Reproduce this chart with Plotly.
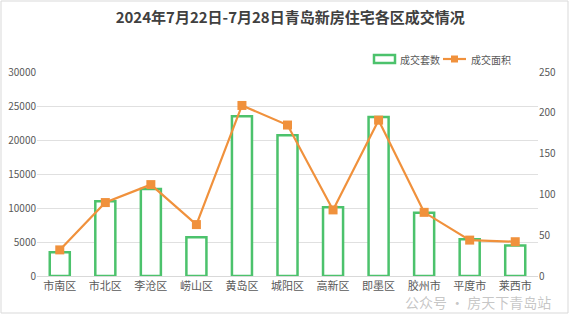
import plotly.graph_objects as go

categories = ["市南区", "市北区", "李沧区", "崂山区", "黄岛区", "城阳区", "高新区", "即墨区", "胶州市", "平度市", "莱西市"]
deals = [3500, 11000, 12800, 5700, 23500, 20700, 10100, 23400, 9300, 5400, 4500]
area = [32, 90, 112, 63, 209, 185, 81, 191, 78, 44, 42]
left_ticks = [0, 5000, 10000, 15000, 20000, 25000, 30000]
right_ticks = [0, 50, 100, 150, 200, 250]

GREEN = "#4CC26C"
ORANGE = "#F0913C"
TXT = "#595959"
FONT = "Noto Sans CJK SC"

L, R, T, B = 37, 31, 72, 39
PW, PH = 569 - L - R, 315 - T - B


def px(x):
    return (x - L) / PW


def py(y):
    return (315 - B - y) / PH


fig = go.Figure()
fig.add_trace(go.Bar(
    x=categories, y=deals, name="成交套数", width=0.44,
    marker=dict(color="white", line=dict(color=GREEN, width=2.5)),
    yaxis="y",
))
fig.add_trace(go.Scatter(
    x=categories, y=area, name="成交面积", mode="lines+markers",
    line=dict(color=ORANGE, width=2.2),
    marker=dict(symbol="square", size=9, color=ORANGE),
    yaxis="y2",
))

fig.update_layout(
    width=569, height=315,
    margin=dict(l=L, r=R, t=T, b=B, autoexpand=False),
    paper_bgcolor="white", plot_bgcolor="white",
    font=dict(family=FONT, color=TXT, size=10),
    title=dict(text="<b>2024年7月22日-7月28日青岛新房住宅各区成交情况</b>",
               x=0.51, xanchor="center", y=0.945, yanchor="middle",
               font=dict(family=FONT, size=15, color="#404040")),
    showlegend=False,
    xaxis=dict(showgrid=False, showline=True, linecolor="#D9D9D9", linewidth=1,
               ticks="", tickfont=dict(size=11, color=TXT), fixedrange=True,
               automargin=False, range=[-0.5, 10.5]),
    yaxis=dict(range=[0, 30000], tickvals=left_ticks,
               ticktext=[str(v) for v in left_ticks], showgrid=True,
               gridcolor="#E0E0E0", gridwidth=1, zeroline=False, automargin=False,
               tickfont=dict(size=10, color=TXT), ticks="", showline=False),
    yaxis2=dict(range=[0, 250], tickvals=right_ticks,
                ticktext=[str(v) for v in right_ticks], overlaying="y", side="right",
                showgrid=False, zeroline=False, automargin=False,
                tickfont=dict(size=10, color=TXT), ticks="", showline=False),
    bargap=0.56,
)

# outer border of the chart
fig.add_shape(type="rect", xref="paper", yref="paper",
              x0=px(1), x1=px(568), y0=py(313), y1=py(1),
              line=dict(color="#D9D9D9", width=1), fillcolor="rgba(0,0,0,0)", layer="below")

# legend (drawn manually to match compact layout)
fig.add_shape(type="rect", xref="paper", yref="paper",
              x0=px(374), x1=px(395), y0=py(63), y1=py(55),
              line=dict(color=GREEN, width=2.5), fillcolor="white")
fig.add_annotation(text="成交套数", xref="paper", yref="paper", x=px(398), xanchor="left",
                   y=py(59), yanchor="middle", showarrow=False,
                   font=dict(family=FONT, size=10, color=TXT))
fig.add_shape(type="line", xref="paper", yref="paper",
              x0=px(443), x1=px(466), y0=py(59), y1=py(59),
              line=dict(color=ORANGE, width=2.2))
fig.add_shape(type="rect", xref="paper", yref="paper",
              x0=px(451), x1=px(458), y0=py(62.5), y1=py(55.5),
              line=dict(color=ORANGE, width=0), fillcolor=ORANGE)
fig.add_annotation(text="成交面积", xref="paper", yref="paper", x=px(469), xanchor="left",
                   y=py(59), yanchor="middle", showarrow=False,
                   font=dict(family=FONT, size=10, color=TXT))

# watermark
fig.add_annotation(text="公众号 · 房天下青岛站", xref="paper", yref="paper",
                   x=px(553), xanchor="right", y=py(302), yanchor="middle", showarrow=False,
                   font=dict(family=FONT, size=14, color="rgba(150,150,150,0.55)"))

fig.write_html("out.html")
